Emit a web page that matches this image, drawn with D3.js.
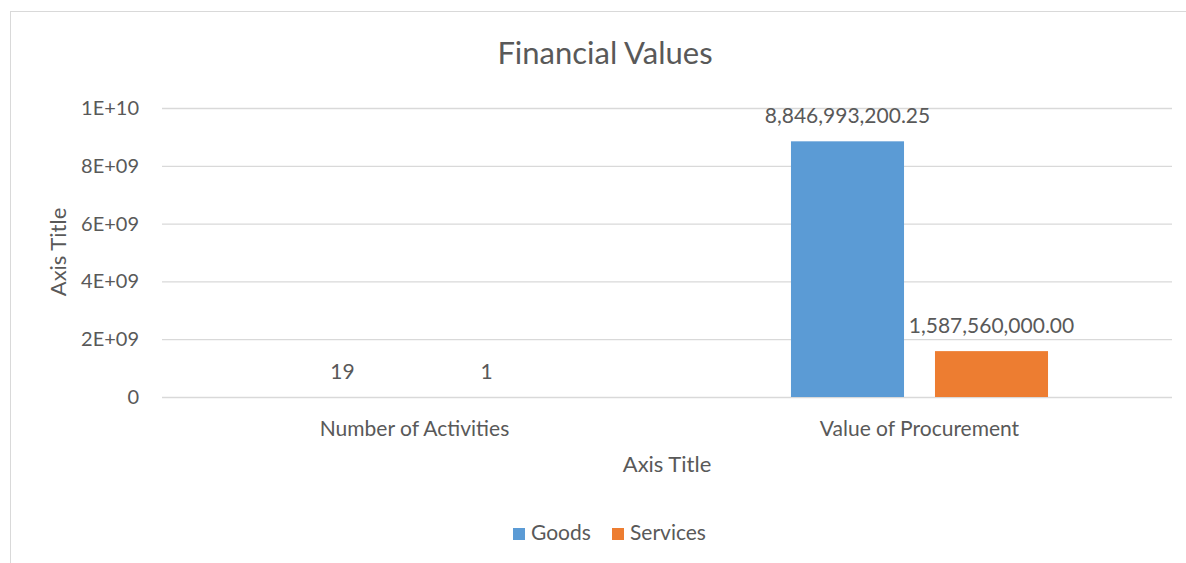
<!DOCTYPE html>
<html>
<head>
<meta charset="utf-8">
<script src="https://cdn.jsdelivr.net/npm/d3@7"></script>
<style>
  body { margin: 0; background: #fff; }
  text { font-family: Lato, "Open Sans", sans-serif; fill: #595959; }
</style>
</head>
<body>
<div id="chart"></div>
<script>
const categories = ["Number of Activities", "Value of Procurement"];
const seriesNames = ["Goods", "Services"];
const goods = [19, 8846993200.25];
const services = [1, 1587560000.00];
const yTicks = [0, 2e9, 4e9, 6e9, 8e9, 1e10];
const yTickLabels = ["0", "2E+09", "4E+09", "6E+09", "8E+09", "1E+10"];
const colors = ["#5B9BD5", "#ED7D31"];

const W = 1186, H = 563;
const margin = {top: 108, right: 14, bottom: 166, left: 162};
const width = W - margin.left - margin.right;
const height = H - margin.top - margin.bottom;

const rows = categories.map((c, i) => ({
  category: c,
  values: [goods[i], services[i]],
  fmt: i === 0 ? d3.format(",") : d3.format(",.2f")
}));

const svg = d3.select("#chart").append("svg")
  .attr("width", W).attr("height", H);

// outer chart border
svg.append("rect")
  .attr("x", 10.5).attr("y", 11.5)
  .attr("width", W).attr("height", H)
  .attr("fill", "none").attr("stroke", "#D9D9D9");

svg.append("text")
  .attr("x", 605).attr("y", 64)
  .attr("text-anchor", "middle")
  .style("font-size", "31px")
  .text("Financial Values");

const g = svg.append("g")
  .attr("transform", "translate(" + margin.left + "," + margin.top + ")");

const x0 = d3.scaleBand().domain(categories).range([0, width])
  .paddingInner(0.491).paddingOuter(0.2455);
const x1 = d3.scaleBand().domain(seriesNames).range([0, x0.bandwidth()]).paddingInner(0.215);
const y = d3.scaleLinear().domain([0, 1e10]).range([height, 0]);

// gridlines + y axis
const yAxis = d3.axisLeft(y)
  .tickValues(yTicks)
  .tickSize(-width)
  .tickPadding(23)
  .tickFormat((d, i) => yTickLabels[i]);
g.append("g").call(yAxis)
  .call(a => a.select(".domain").remove())
  .call(a => a.selectAll("line").attr("stroke", "#D9D9D9").attr("stroke-width", 1.3))
  .call(a => a.selectAll("text").style("font-size", "20px").attr("fill", "#595959"));

// x axis labels
const xAxis = d3.axisBottom(x0).tickSize(0).tickPadding(24);
g.append("g").attr("transform", "translate(0," + height + ")").call(xAxis)
  .call(a => a.select(".domain").remove())
  .call(a => a.selectAll("text").style("font-size", "21px").attr("fill", "#595959"));

const groups = g.selectAll(".grp").data(rows).enter().append("g")
  .attr("transform", d => "translate(" + x0(d.category) + ",0)");

groups.selectAll("rect")
  .data(d => d.values.map((v, i) => ({name: seriesNames[i], v: v, i: i})))
  .enter().append("rect")
  .attr("x", d => x1(d.name))
  .attr("width", x1.bandwidth())
  .attr("y", d => y(d.v))
  .attr("height", d => height - y(d.v))
  .attr("fill", d => colors[d.i]);

groups.selectAll(".lbl")
  .data(d => d.values.map((v, i) => ({name: seriesNames[i], v: v, fmt: d.fmt})))
  .enter().append("text")
  .attr("x", d => x1(d.name) + x1.bandwidth() / 2)
  .attr("y", d => y(d.v) - 18)
  .attr("text-anchor", "middle")
  .style("font-size", "21px")
  .text(d => d.fmt(d.v));

// axis titles
svg.append("text")
  .attr("x", 667).attr("y", 472)
  .attr("text-anchor", "middle")
  .style("font-size", "22px")
  .text("Axis Title");
svg.append("text")
  .attr("transform", "translate(66,252) rotate(-90)")
  .attr("text-anchor", "middle")
  .style("font-size", "22px")
  .text("Axis Title");

// legend
const legend = svg.append("g").attr("transform", "translate(513,528)");
const items = [{name: seriesNames[0], x: 0}, {name: seriesNames[1], x: 99}];
items.forEach((it, i) => {
  legend.append("rect").attr("x", it.x).attr("y", 0)
    .attr("width", 12).attr("height", 12).attr("fill", colors[i]);
  legend.append("text").attr("x", it.x + 18).attr("y", 12)
    .style("font-size", "21px").text(it.name);
});
</script>
</body>
</html>
